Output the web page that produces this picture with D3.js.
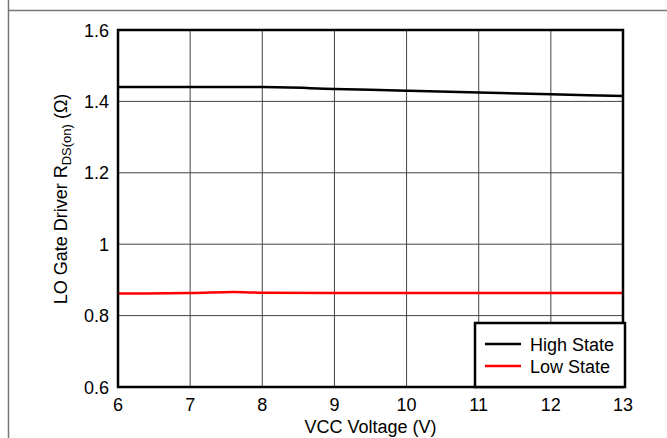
<!DOCTYPE html>
<html>
<head>
<meta charset="utf-8">
<script src="https://cdn.jsdelivr.net/npm/d3@7"></script>
<style>
  body { margin: 0; background: #fff; }
  svg { display: block; }
  text { font-family: "Liberation Sans", Arial, sans-serif; }
</style>
</head>
<body>
<svg id="chart" width="667" height="438"></svg>
<script>
const xTicks = [6, 7, 8, 9, 10, 11, 12, 13];
const yTicks = [0.6, 0.8, 1, 1.2, 1.4, 1.6];
const highX = [6, 7, 8, 9, 10, 11, 12, 13];
const highY = [1.44, 1.44, 1.44, 1.435, 1.43, 1.425, 1.42, 1.415];
const lowX = [6, 7, 7.6, 8, 9, 10, 11, 12, 13];
const lowY = [0.862, 0.863, 0.866, 0.864, 0.863, 0.863, 0.863, 0.863, 0.863];
const seriesNames = ["High State", "Low State"];
const seriesColors = ["#000000", "#ff0000"];

const svg = d3.select("#chart");
const W = 667, H = 438;
const m = { left: 118, right: 623, top: 30, bottom: 387 };

const x = d3.scaleLinear().domain([6, 13]).range([m.left, m.right]);
const y = d3.scaleLinear().domain([0.6, 1.6]).range([m.bottom, m.top]);

// outer frame lines
svg.append("line").attr("x1", 8.5).attr("x2", 8.5).attr("y1", 0).attr("y2", H)
  .attr("stroke", "#777").attr("stroke-width", 1.5);
svg.append("line").attr("x1", 8.5).attr("x2", W).attr("y1", 10.5).attr("y2", 10.5)
  .attr("stroke", "#777").attr("stroke-width", 1.5);

// gridlines
const grid = svg.append("g");
grid.selectAll("line.vx").data(xTicks.slice(1, -1)).join("line")
  .attr("x1", d => x(d)).attr("x2", d => x(d))
  .attr("y1", m.top).attr("y2", m.bottom)
  .attr("stroke", "#444").attr("stroke-width", 1);
grid.selectAll("line.hy").data(yTicks.slice(1, -1)).join("line")
  .attr("y1", d => y(d)).attr("y2", d => y(d))
  .attr("x1", m.left).attr("x2", m.right)
  .attr("stroke", "#444").attr("stroke-width", 1);

// data lines
const line = d3.line().x(d => x(d[0])).y(d => y(d[1])).curve(d3.curveMonotoneX);
const highData = highX.map((v, i) => [v, highY[i]]);
const lowData = lowX.map((v, i) => [v, lowY[i]]);
svg.append("path").datum(highData).attr("d", line)
  .attr("fill", "none").attr("stroke", seriesColors[0]).attr("stroke-width", 2.5);
svg.append("path").datum(lowData).attr("d", line)
  .attr("fill", "none").attr("stroke", seriesColors[1]).attr("stroke-width", 2.5);

// plot frame
svg.append("rect").attr("x", m.left).attr("y", m.top)
  .attr("width", m.right - m.left).attr("height", m.bottom - m.top)
  .attr("fill", "none").attr("stroke", "#000").attr("stroke-width", 2.5);

// y tick labels
svg.append("g").selectAll("text").data(yTicks).join("text")
  .attr("x", m.left - 9).attr("y", d => y(d) + 6.5)
  .attr("text-anchor", "end").attr("font-size", 18).attr("fill", "#000")
  .text(d => d3.format("")(d));

// x tick labels
svg.append("g").selectAll("text").data(xTicks).join("text")
  .attr("x", d => x(d)).attr("y", 411)
  .attr("text-anchor", "middle").attr("font-size", 18).attr("fill", "#000")
  .text(d => d);

// x title
svg.append("text").attr("x", (m.left + m.right) / 2).attr("y", 433)
  .attr("text-anchor", "middle").attr("font-size", 18).attr("fill", "#000")
  .text("VCC Voltage (V)");

// y title
const yt = svg.append("text")
  .attr("transform", "translate(67,199) rotate(-90)")
  .attr("text-anchor", "middle").attr("font-size", 18).attr("fill", "#000");
yt.append("tspan").text("LO Gate Driver R");
yt.append("tspan").attr("font-size", 13).attr("dy", 4).text("DS(on)");
yt.append("tspan").attr("dy", -4).text(" (\u03A9)");

// legend
const lg = svg.append("g");
lg.append("rect").attr("x", 475).attr("y", 323).attr("width", 150).attr("height", 64)
  .attr("fill", "#fff").attr("stroke", "#000").attr("stroke-width", 2.5);
seriesNames.forEach((name, i) => {
  const yy = 344 + i * 22;
  lg.append("line").attr("x1", 485).attr("x2", 521).attr("y1", yy).attr("y2", yy)
    .attr("stroke", seriesColors[i]).attr("stroke-width", 2.5);
  lg.append("text").attr("x", 530).attr("y", yy + 6.5)
    .attr("font-size", 18).attr("fill", "#000").text(name);
});
</script>
</body>
</html>
